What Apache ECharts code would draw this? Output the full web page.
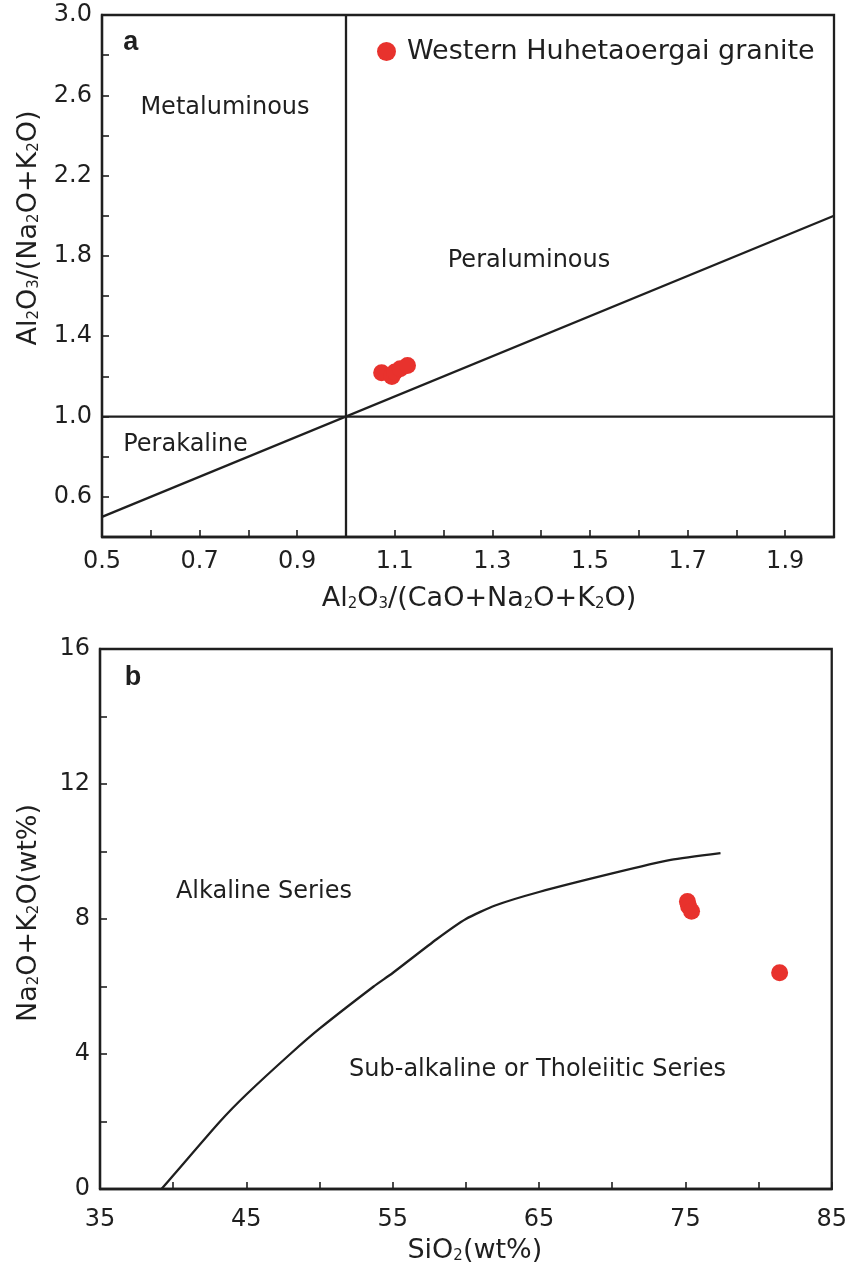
<!DOCTYPE html>
<html>
<head>
<meta charset="utf-8">
<script src="https://cdn.jsdelivr.net/npm/echarts@6/dist/echarts.min.js"></script>
<style>
html,body{margin:0;padding:0;background:#fff;}
#chart{width:850px;height:1265px;}
</style>
</head>
<body>
<div id="chart"></div>
<script>
// ---------- Data: panel a (A/CNK vs A/NK) ----------
const seriesName = 'Western Huhetaoergai granite';
const aPointsACNK = [1.073, 1.094, 1.100, 1.111, 1.126];
const aPointsANK  = [1.218, 1.200, 1.222, 1.238, 1.254];
const aXTickLabels = [0.5, 0.7, 0.9, 1.1, 1.3, 1.5, 1.7, 1.9];
const aYTickLabels = [0.6, 1.0, 1.4, 1.8, 2.2, 2.6, 3.0];
const aLineVertical   = [[1.0, 0.4], [1.0, 3.0]];
const aLineHorizontal = [[0.5, 1.0], [2.0, 1.0]];
const aLineDiagonal   = [[0.5, 0.5], [2.0, 2.0]];
const aFieldNames = ['Metaluminous', 'Peraluminous', 'Perakaline'];
const aFieldX = [0.752, 1.375, 0.671];
const aFieldY = [2.536, 1.778, 0.86];

// ---------- Data: panel b (SiO2 vs Na2O+K2O) ----------
const bPointsSiO2 = [75.14, 75.22, 75.42, 81.44];
const bPointsAlk  = [8.52, 8.38, 8.23, 6.41];
const bXTickLabels = [35, 45, 55, 65, 75, 85];
const bYTickLabels = [0, 4, 8, 12, 16];
const bDividerSiO2 = [39.2, 40, 43.2, 45, 48, 50, 53.7, 55, 58, 60, 62, 65, 70, 74, 77.4];
const bDividerAlk  = [0, 0.4, 2.0, 2.8, 4.0, 4.75, 6.0, 6.4, 7.4, 8.0, 8.4, 8.8, 9.35, 9.75, 9.95];
const bFieldNames = ['Alkaline Series', 'Sub-alkaline or Tholeiitic Series'];
const bFieldX = [46.2, 64.9];
const bFieldY = [8.82, 3.53];

// ---------- Styling ----------
const FONT = 'DejaVu Sans';
const INK = '#1f1f1f';
const RED = '#e8322d';
const LW = 2.3;

function near(list, v){ return list.some(l => Math.abs(l - v) < 1e-6); }
function zip(xs, ys){ return xs.map((x, i) => [x, ys[i]]); }

const subRich = {
  t: {fontFamily: FONT, fontSize: 27, color: INK, lineHeight: 32, verticalAlign: 'bottom'},
  s: {fontFamily: FONT, fontSize: 15, color: INK, lineHeight: 9, verticalAlign: 'bottom'}
};

function nameStyle(padding){
  return {fontFamily: FONT, fontSize: 27, color: INK, rich: subRich, padding: padding};
}

function axisCommon(){
  return {
    axisLine: {show: true, lineStyle: {color: INK, width: LW}},
    axisTick: {show: true, inside: true, length: 7, lineStyle: {color: INK, width: 1.6}},
    splitLine: {show: false}
  };
}

const labelFont = {fontFamily: FONT, fontSize: 24, color: INK};

const chart = echarts.init(document.getElementById('chart'), null, {renderer: 'canvas'});

const option = {
  backgroundColor: '#fff',
  animation: false,
  legend: {
    data: [seriesName],
    left: 372, top: 33,
    itemWidth: 19, itemHeight: 19,
    icon: 'circle',
    textStyle: {fontFamily: FONT, fontSize: 27, color: INK, padding: [0, 0, 0, 6]}
  },
  grid: [
    {left: 102, top: 15, width: 732, height: 522, show: true, borderColor: INK, borderWidth: LW},
    {left: 100, top: 649, width: 734, height: 544, show: true, borderColor: INK, borderWidth: LW}
  ],
  xAxis: [
    Object.assign(axisCommon(), {
      gridIndex: 0, type: 'value', min: 0.5, max: 2.0, interval: 0.1,
      name: '{t|Al}{s|2}{t|O}{s|3}{t|/(CaO+Na}{s|2}{t|O+K}{s|2}{t|O)}',
      nameLocation: 'middle', nameGap: 43, nameTextStyle: nameStyle([0, 0, 0, 22]),
      axisLabel: Object.assign({margin: 13,
        formatter: v => (near(aXTickLabels, v) ? v.toFixed(1) : '')}, labelFont)
    }),
    Object.assign(axisCommon(), {
      gridIndex: 1, type: 'value', min: 35, max: 85, interval: 5,
      name: '{t|SiO}{s|2}{t|(wt%)}',
      nameLocation: 'middle', nameGap: 43, nameTextStyle: nameStyle([0, 0, 0, 18]),
      axisLabel: Object.assign({margin: 19,
        formatter: v => (near(bXTickLabels, v) ? String(Math.round(v)) : '')}, labelFont)
    })
  ],
  yAxis: [
    Object.assign(axisCommon(), {
      gridIndex: 0, type: 'value', min: 0.4, max: 3.0, interval: 0.2,
      name: '{t|Al}{s|2}{t|O}{s|3}{t|/(Na}{s|2}{t|O+K}{s|2}{t|O)}',
      nameLocation: 'middle', nameGap: 60, nameRotate: 90, nameTextStyle: nameStyle([0, 0, 0, 96]),
      axisLabel: Object.assign({margin: 10,
        formatter: v => (near(aYTickLabels, v) ? v.toFixed(1) : '')}, labelFont)
    }),
    Object.assign(axisCommon(), {
      gridIndex: 1, type: 'value', min: 0, max: 16, interval: 2,
      name: '{t|Na}{s|2}{t|O+K}{s|2}{t|O(wt%)}',
      nameLocation: 'middle', nameGap: 58, nameRotate: 90, nameTextStyle: nameStyle([0, 0, 0, 12]),
      axisLabel: Object.assign({margin: 10,
        formatter: v => (near(bYTickLabels, v) ? String(Math.round(v)) : '')}, labelFont)
    })
  ],
  series: [
    // panel a boundaries
    {type: 'line', xAxisIndex: 0, yAxisIndex: 0, data: aLineVertical, symbol: 'none', silent: true,
      lineStyle: {color: INK, width: LW}},
    {type: 'line', xAxisIndex: 0, yAxisIndex: 0, data: aLineHorizontal, symbol: 'none', silent: true,
      lineStyle: {color: INK, width: LW}},
    {type: 'line', xAxisIndex: 0, yAxisIndex: 0, data: aLineDiagonal, symbol: 'none', silent: true,
      lineStyle: {color: INK, width: LW}},
    // panel a field names
    {type: 'scatter', xAxisIndex: 0, yAxisIndex: 0, symbolSize: 0, silent: true,
      itemStyle: {opacity: 1},
      data: aFieldNames.map((n, i) => ({name: n, value: [aFieldX[i], aFieldY[i]]})),
      label: {show: true, position: 'inside', formatter: p => p.name,
        fontFamily: FONT, fontSize: 24, color: INK}},
    {type: 'scatter', xAxisIndex: 0, yAxisIndex: 0, symbolSize: 0, silent: true,
      itemStyle: {opacity: 1},
      data: [{name: 'a', value: [0.559, 2.865]}],
      label: {show: true, position: 'inside', formatter: p => p.name,
        fontFamily: 'Liberation Sans', fontSize: 27, fontWeight: 'bold', color: INK}},
    // panel a samples
    {name: seriesName, type: 'scatter', xAxisIndex: 0, yAxisIndex: 0, symbol: 'circle', symbolSize: 17,
      itemStyle: {color: RED, opacity: 1}, data: zip(aPointsACNK, aPointsANK)},
    // panel b divider
    {type: 'line', xAxisIndex: 1, yAxisIndex: 1, data: zip(bDividerSiO2, bDividerAlk), symbol: 'none',
      smooth: 0.2, silent: true, lineStyle: {color: INK, width: LW}},
    // panel b field names
    {type: 'scatter', xAxisIndex: 1, yAxisIndex: 1, symbolSize: 0, silent: true,
      itemStyle: {opacity: 1},
      data: bFieldNames.map((n, i) => ({name: n, value: [bFieldX[i], bFieldY[i]]})),
      label: {show: true, position: 'inside', formatter: p => p.name,
        fontFamily: FONT, fontSize: 24, color: INK}},
    {type: 'scatter', xAxisIndex: 1, yAxisIndex: 1, symbolSize: 0, silent: true,
      itemStyle: {opacity: 1},
      data: [{name: 'b', value: [37.25, 15.15]}],
      label: {show: true, position: 'inside', formatter: p => p.name,
        fontFamily: 'Liberation Sans', fontSize: 27, fontWeight: 'bold', color: INK}},
    // panel b samples
    {name: seriesName, type: 'scatter', xAxisIndex: 1, yAxisIndex: 1, symbol: 'circle', symbolSize: 17,
      itemStyle: {color: RED, opacity: 1}, data: zip(bPointsSiO2, bPointsAlk)}
  ]
};

chart.setOption(option);
</script>
</body>
</html>
